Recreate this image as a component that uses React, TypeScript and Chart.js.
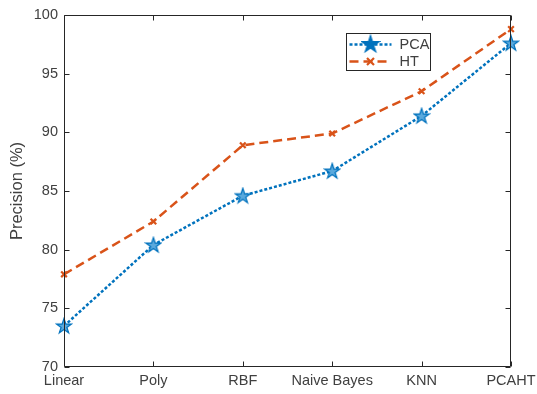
import React, { useEffect, useRef } from "react";
import { Chart, registerables } from "chart.js";

Chart.register(...registerables);

const categories = ["Linear", "Poly", "RBF", "Naive Bayes", "KNN", "PCAHT"];
const pcaValues = [73.5, 80.4, 84.6, 86.7, 91.4, 97.6];
const htValues = [77.9, 82.4, 88.9, 89.9, 93.5, 98.8];
const seriesNames = ["PCA", "HT"];
const yTicks = [70, 75, 80, 85, 90, 95, 100];

const AXIS = "#262626";
const TEXT = "#404040";
const BLUE = "#0072BD";
const BLUE_FACE = "#5aa9dd";
const ORANGE = "#D95319";
const FONT = "'Liberation Sans', Arial, sans-serif";

function starPath(ctx: CanvasRenderingContext2D, cx: number, cy: number, r: number) {
  const ri = r * 0.382;
  ctx.beginPath();
  for (let i = 0; i < 10; i++) {
    const rad = i % 2 === 0 ? r : ri;
    const a = -Math.PI / 2 + (i * Math.PI) / 5;
    const x = cx + rad * Math.cos(a);
    const y = cy + rad * Math.sin(a);
    if (i === 0) ctx.moveTo(x, y);
    else ctx.lineTo(x, y);
  }
  ctx.closePath();
}

function makeStar(size: number, r: number, face: string): HTMLCanvasElement {
  const c = document.createElement("canvas");
  c.width = size;
  c.height = size;
  const ctx = c.getContext("2d")!;
  starPath(ctx, size / 2, size / 2 + 0.5, r);
  ctx.fillStyle = face;
  ctx.fill();
  ctx.lineWidth = 1.2;
  ctx.strokeStyle = BLUE;
  ctx.stroke();
  return c;
}

const boxPlugin = {
  id: "matlabBox",
  afterDatasetsDraw(chart: any) {
    const { ctx, chartArea } = chart;
    const { left, right, top, bottom } = chartArea;
    const xs = chart.scales.x;
    const ys = chart.scales.y;
    const tl = 5;
    ctx.save();
    ctx.strokeStyle = AXIS;
    ctx.lineWidth = 1;
    ctx.beginPath();
    const L = Math.round(left) + 0.5;
    const R = Math.round(right) - 0.5;
    const T = Math.round(top) + 0.5;
    const B = Math.round(bottom) - 0.5;
    ctx.rect(L, T, R - L, B - T);
    categories.forEach((_, i) => {
      const x = Math.round(xs.getPixelForValue(i)) + 0.5;
      ctx.moveTo(x, B);
      ctx.lineTo(x, B - tl);
      ctx.moveTo(x, T);
      ctx.lineTo(x, T + tl);
    });
    yTicks.forEach((v) => {
      const y = Math.round(ys.getPixelForValue(v)) + 0.5;
      ctx.moveTo(L, y);
      ctx.lineTo(L + tl, y);
      ctx.moveTo(R, y);
      ctx.lineTo(R - tl, y);
    });
    ctx.stroke();

    // legend
    const lx = 346.5, ly = 33.5, lw = 84, lh = 37;
    ctx.fillStyle = "#ffffff";
    ctx.fillRect(lx, ly, lw, lh);
    ctx.strokeRect(lx, ly, lw, lh);
    const rows = [ly + 11, ly + 28];
    ctx.lineWidth = 2.5;
    ctx.strokeStyle = BLUE;
    ctx.setLineDash([3, 2]);
    ctx.beginPath();
    ctx.moveTo(lx + 3, rows[0]);
    ctx.lineTo(lx + 45, rows[0]);
    ctx.stroke();
    ctx.setLineDash([]);
    const st = makeStar(20, 9, BLUE);
    ctx.drawImage(st, lx + 24 - 10, rows[0] - 10.5);
    ctx.strokeStyle = ORANGE;
    ctx.lineWidth = 2.5;
    ctx.setLineDash([9, 5]);
    ctx.beginPath();
    ctx.moveTo(lx + 3, rows[1]);
    ctx.lineTo(lx + 45, rows[1]);
    ctx.stroke();
    ctx.setLineDash([]);
    ctx.lineWidth = 2.2;
    const cx = lx + 24, cy = rows[1];
    ctx.beginPath();
    ctx.moveTo(cx - 3.5, cy - 3.5);
    ctx.lineTo(cx + 3.5, cy + 3.5);
    ctx.moveTo(cx + 3.5, cy - 3.5);
    ctx.lineTo(cx - 3.5, cy + 3.5);
    ctx.stroke();
    ctx.fillStyle = TEXT;
    ctx.font = `14.5px ${FONT}`;
    ctx.textBaseline = "middle";
    ctx.textAlign = "left";
    ctx.fillText(seriesNames[0], lx + 53, rows[0] + 0.5);
    ctx.fillText(seriesNames[1], lx + 53, rows[1] + 0.5);
    ctx.restore();
  },
};

export default function App() {
  const ref = useRef<HTMLCanvasElement>(null);
  useEffect(() => {
    document.body.style.margin = "0";
    const star = makeStar(18, 8, BLUE_FACE);
    const chart = new Chart(ref.current!, {
      type: "line",
      data: {
        labels: categories,
        datasets: [
          {
            label: seriesNames[1],
            data: htValues,
            borderColor: ORANGE,
            borderWidth: 2.5,
            borderDash: [9, 5],
            pointStyle: "crossRot",
            pointRadius: 4,
            pointBorderWidth: 2.2,
            pointBorderColor: ORANGE,
            pointBackgroundColor: ORANGE,
            tension: 0,
            fill: false,
          },
          {
            label: seriesNames[0],
            data: pcaValues,
            borderColor: BLUE,
            borderWidth: 2.5,
            borderDash: [3, 2],
            pointStyle: star as any,
            pointRadius: 8,
            tension: 0,
            fill: false,
          },
        ],
      },
      options: {
        animation: false,
        responsive: false,
        maintainAspectRatio: false,
        events: [],
        layout: { padding: { top: 15, right: 26, left: 0, bottom: 0 } },
        plugins: { legend: { display: false }, tooltip: { enabled: false } },
        scales: {
          x: {
            type: "category",
            offset: false,
            grid: { display: false, drawTicks: false, tickLength: 0 },
            border: { display: false },
            ticks: {
              color: TEXT,
              font: { family: FONT, size: 14.5 },
              padding: 5,
              maxRotation: 0,
              autoSkip: false,
            },
            afterFit: (s: any) => {
              s.height = 27;
              s.paddingLeft = 0;
              s.paddingRight = 0;
            },
          },
          y: {
            min: 70,
            max: 100,
            grid: { display: false, drawTicks: false, tickLength: 0 },
            border: { display: false },
            ticks: {
              stepSize: 5,
              color: TEXT,
              font: { family: FONT, size: 14.5 },
              padding: 6,
            },
            title: {
              display: true,
              text: "Precision (%)",
              color: TEXT,
              font: { family: FONT, size: 16.5 },
              padding: { top: 8, bottom: 0 },
            },
            afterFit: (s: any) => {
              s.width = 64;
              s.paddingTop = 0;
              s.paddingBottom = 0;
            },
          },
        },
      },
      plugins: [boxPlugin],
    });
    return () => chart.destroy();
  }, []);
  return <canvas ref={ref} width={537} height={394} style={{ display: "block" }} />;
}
